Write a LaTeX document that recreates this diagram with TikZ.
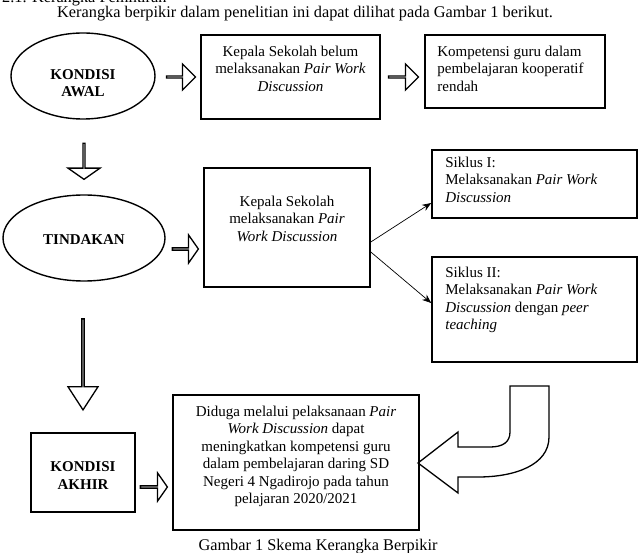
\documentclass[tikz,border=0pt]{standalone}
\usepackage{fontspec}
\setmainfont{Liberation Serif}
\usetikzlibrary{shapes.geometric}
\usetikzlibrary{shapes.arrows}
\usetikzlibrary{calc}
\usetikzlibrary{arrows.meta}
\usetikzlibrary{positioning}
\newcommand*{\fs}{\fontsize{15}{17.5}\selectfont}
\newcommand*{\fb}{\fontsize{16.3}{19}\selectfont}

\begin{document}
\begin{tikzpicture}[x=1pt,y=-1pt]
		\tikzstyle{Box} = [draw=black, line width=1.6pt, inner sep=0pt]
		\tikzstyle{Kondisi} = [draw=black, line width=1.4pt, ellipse, inner sep=0pt]
		\tikzstyle{Label} = [inner sep=0pt, font=\fs\bfseries, align=center]
		\tikzstyle{Txt} = [inner sep=0pt, font=\fs, align=center, anchor=north]
		\tikzstyle{LTxt} = [inner sep=0pt, font=\fs, align=left, anchor=north west]
		\tikzstyle{Body} = [inner sep=0pt, font=\fb]
		\tikzstyle{Hollow} = [single arrow, draw=black, line width=1.3pt, inner sep=0pt, single arrow head indent=0pt]
		\tikzstyle{Link} = [line width=0.7pt, -{Stealth[length=9pt,width=7pt]}]

		\useasboundingbox (0,0) rectangle (642,553);

		%Intro text
		\begin{scope}
			\clip (0,0) rectangle (642,553);
			\node[Body, anchor=base west] (Head) at (2,3) {2.1. Kerangka Pemikiran};
		\end{scope}
		\node[Body, anchor=base west] (Intro) at (57,18) {Kerangka berpikir dalam penelitian ini dapat dilihat pada Gambar 1 berikut.};

		%Draw conditions
		\node[Kondisi, minimum width=144, minimum height=86] (Awal) at (83,76) {};
		\node[Label] (AwalLabel) at ($(Awal)+(0,7)$) {KONDISI\\AWAL};
		\node[Kondisi, minimum width=162, minimum height=86] (Tindakan) at (84,238) {};
		\node[Label] (TindakanLabel) at ($(Tindakan)+(0,2)$) {TINDAKAN};
		\node[Box, minimum width=104, minimum height=79] (Akhir) at (83,472.5) {};
		\node[Label] (AkhirLabel) at ($(Akhir)+(0,3)$) {KONDISI\\AKHIR};

		%Draw boxes
		\node[Box, minimum width=179, minimum height=84] (B1) at (290.5,77) {};
		\node[Txt] (B1Text) at ($(B1.north)+(0,11.5)$) {Kepala Sekolah belum\\melaksanakan \textit{Pair Work}\\\textit{Discussion}};

		\node[Box, minimum width=180, minimum height=73] (B2) at (515,71.5) {};
		\node[LTxt] (B2Text) at ($(B2.north west)+(13,11.5)$) {Kompetensi guru dalam\\pembelajaran kooperatif\\rendah};

		\node[Box, minimum width=166, minimum height=119] (B3) at (287,227.5) {};
		\node[Txt] (B3Text) at ($(B3.north)+(0,28.5)$) {Kepala Sekolah\\melaksanakan \textit{Pair}\\\textit{Work Discussion}};

		\node[Box, minimum width=205, minimum height=68] (S1) at (534.5,184) {};
		\node[LTxt] (S1Text) at ($(S1.north west)+(14,7.5)$) {Siklus I:\\Melaksanakan \textit{Pair Work}\\\textit{Discussion}};

		\node[Box, minimum width=205, minimum height=105] (S2) at (534.5,309.5) {};
		\node[LTxt] (S2Text) at ($(S2.north west)+(14,10.5)$) {Siklus II:\\Melaksanakan \textit{Pair Work}\\\textit{Discussion} dengan \textit{peer}\\\textit{teaching}};

		\node[Box, minimum width=246, minimum height=135] (B4) at (296,462.5) {};
		\node[Txt] (B4Text) at ($(B4.north)+(0,11.5)$) {Diduga melalui pelaksanaan \textit{Pair}\\\textit{Work Discussion} dapat\\meningkatkan kompetensi guru\\dalam pembelajaran daring SD\\Negeri 4 Ngadirojo pada tahun\\pelajaran 2020/2021};

		%Draw hollow arrows
		\node[Hollow, minimum height=29, minimum width=26, single arrow head extend=7.5] (H1) at (180.5,77) {};
		\node[Hollow, minimum height=30, minimum width=26, single arrow head extend=7.5] (H2) at (403,77) {};
		\node[Hollow, minimum height=26, minimum width=28, single arrow head extend=7.5, single arrow tip angle=110] (H3) at (185,249) {};
		\node[Hollow, minimum height=27, minimum width=28, single arrow head extend=7.5, single arrow tip angle=110] (H4) at (153.5,487) {};
		\node[Hollow, minimum height=36, minimum width=32, single arrow head extend=10, single arrow tip angle=110, rotate=-90] (D1) at (84,161) {};
		\node[Hollow, minimum height=91, minimum width=30, single arrow head extend=8, single arrow tip angle=66, rotate=-90] (D2) at (83,363.5) {};

		%Curved arrow back to the result
		\draw[line width=1.3pt, line join=miter] (458,447) -- (458,432) -- (418,463) -- (458,493) -- (458,477) -- (478,477)
			.. controls (515,477) and (549,465) .. (549,437) -- (549,386) -- (510,386) -- (510,432)
			.. controls (510,442) and (503,447) .. (490,447) -- cycle;

		%Draw links to the cycles
		\coordinate (L1) at ($(B3.east)+(0,14.5)$);
		\coordinate (L2) at ($(B3.east)+(0,24.5)$);
		\coordinate (E1) at ($(S1.west)+(0,19)$);
		\coordinate (E2) at ($(S2.west)+(0,-6.5)$);
		\draw[Link] (L1) -- (E1);
		\draw[Link] (L2) -- (E2);

		%Caption
		\node[Body, anchor=base] (Caption) at (318,550) {Gambar 1 Skema Kerangka Berpikir};
\end{tikzpicture}
\end{document}
